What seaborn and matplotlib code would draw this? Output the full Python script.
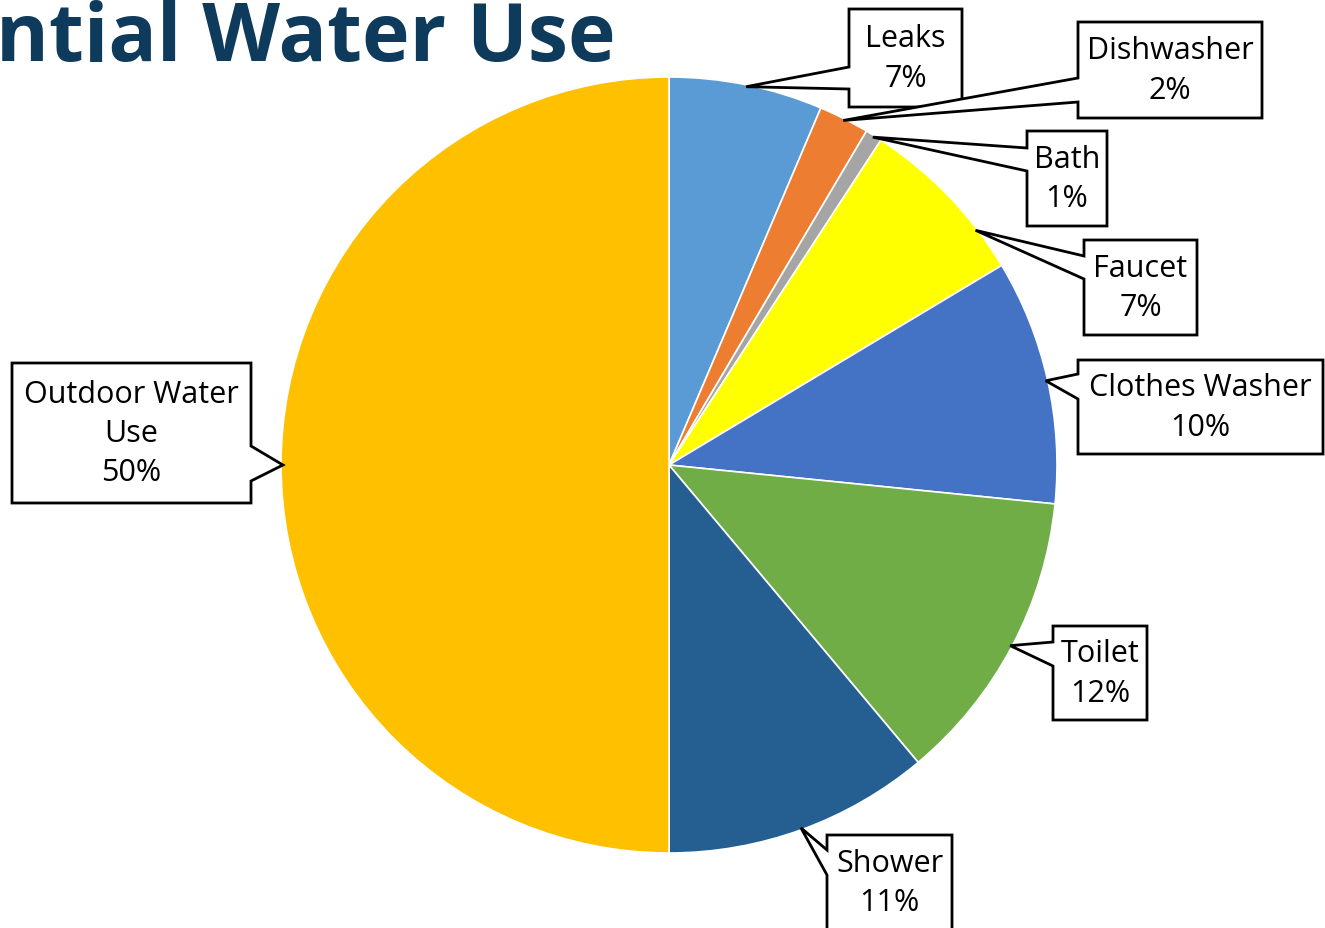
import numpy as np
import matplotlib
matplotlib.use("Agg")
import matplotlib.pyplot as plt
import seaborn as sns
from matplotlib.patches import Polygon

# slice data, clockwise from 12 o'clock
categories = ["Leaks", "Dishwasher", "Bath", "Faucet", "Clothes Washer",
              "Toilet", "Shower", "Outdoor Water Use"]
shares = [6.4, 2.1, 0.7, 7.2, 10.2, 12.3, 11.1, 50.0]
pct_labels = ["7%", "2%", "1%", "7%", "10%", "12%", "11%", "50%"]
box_names = ["Leaks", "Dishwasher", "Bath", "Faucet", "Clothes Washer",
             "Toilet", "Shower", "Outdoor Water\nUse"]
slice_colors = ["#5B9BD5", "#ED7D31", "#A5A5A5", "#FFFF00", "#4472C4",
                "#70AD47", "#255E91", "#FFC000"]
title_text = "ntial Water Use"

# canvas in pixels
W, H = 1325, 929
pie_center = (669, 466)
pie_radius = 388

# callout boxes: (x0, y0, x1, y1, side of pointer, pointer base y's) in pixel coords (y down)
boxes = [
    (849, 10, 962, 108, "left", (68, 90)),
    (1078, 23, 1262, 119, "left", (79, 103)),
    (1027, 132, 1107, 227, "left", (149, 172)),
    (1084, 241, 1197, 336, "left", (257, 280)),
    (1078, 361, 1323, 455, "left", (375, 400)),
    (1053, 627, 1147, 721, "left", (643, 667)),
    (827, 836, 952, 931, "left", (851, 876)),
    (12, 364, 251, 504, "right", (447, 482)),
]
# where along each slice the pointer lands (0 = start, 1 = end)
tip_pos = [0.5, 0.5, 0.5, 0.75, 0.5, 0.5, 0.5, 0.5]

sns.set_theme(style="white")
plt.rcParams["font.family"] = ["Open Sans", "DejaVu Sans"]

fig = plt.figure(figsize=(W / 100, H / 100), dpi=100)
ax = fig.add_axes([0, 0, 1, 1])

wedges, _ = ax.pie(shares, colors=slice_colors, startangle=90, counterclock=False,
                   center=(pie_center[0], H - pie_center[1]), radius=pie_radius,
                   wedgeprops=dict(edgecolor="white", linewidth=1.2))
ax.set_xlim(0, W)
ax.set_ylim(0, H)
ax.set_aspect("equal")
ax.axis("off")

Y = lambda v: H - v
for w, name, pct, f, (x0, y0, x1, y1, side, (ya, yb)) in zip(wedges, box_names, pct_labels, tip_pos, boxes):
    # counterclock=False -> theta2 is where the slice starts
    mid = np.deg2rad(w.theta2 + (w.theta1 - w.theta2) * f)
    tx = w.center[0] + w.r * 0.995 * np.cos(mid)
    ty = w.center[1] + w.r * 0.995 * np.sin(mid)
    if side == "left":
        pts = [(x0, Y(y0)), (x1, Y(y0)), (x1, Y(y1)), (x0, Y(y1)),
               (x0, Y(yb)), (tx, ty), (x0, Y(ya))]
    else:
        pts = [(x0, Y(y0)), (x1, Y(y0)), (x1, Y(ya)), (tx, ty),
               (x1, Y(yb)), (x1, Y(y1)), (x0, Y(y1))]
    ax.add_patch(Polygon(pts, closed=True, facecolor="white", edgecolor="black",
                         linewidth=2.0, joinstyle="miter", zorder=5))
    ax.text((x0 + x1) / 2, Y((y0 + y1) / 2), name + "\n" + pct, ha="center", va="center",
            fontsize=22, color="black", linespacing=1.4, zorder=6)

ax.text(-4, H - 61, title_text, ha="left", va="baseline", fontsize=58,
        fontweight="bold", color="#0E3A5C", zorder=7)

fig.savefig("out.png", dpi=100)
